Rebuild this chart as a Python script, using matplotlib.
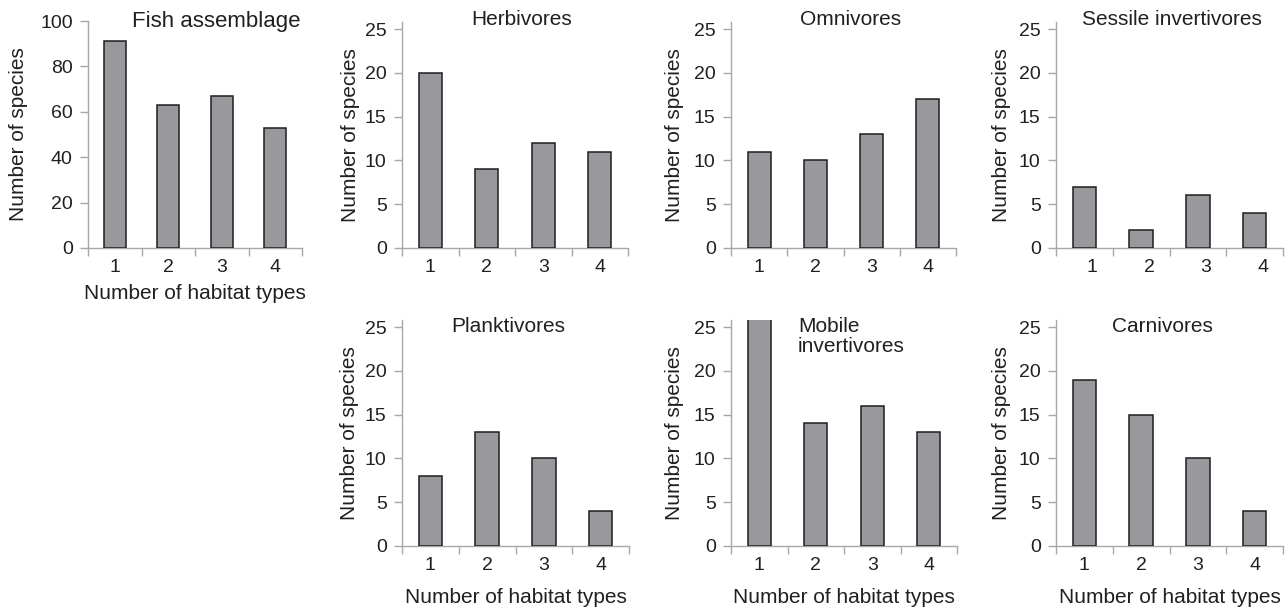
import matplotlib
matplotlib.use("Agg")
import matplotlib.pyplot as plt
import matplotlib.transforms as mtransforms

plt.rcParams['font.family'] = ['Liberation Sans', 'DejaVu Sans']

# Number of habitat types used by each species
habitat_types = ["1", "2", "3", "4"]

fish_assemblage = [91, 63, 67, 53]
herbivores = [20, 9, 12, 11]
omnivores = [11, 10, 13, 17]
sessile_invertivores = [7, 2, 6, 4]
planktivores = [8, 13, 10, 4]
mobile_invertivores = [26, 14, 16, 13]
carnivores = [19, 15, 10, 4]

W, H = 1287, 612
fig = plt.figure(figsize=(W / 100, H / 100), dpi=100)

TEXT = "#231f20"
SPINE = "#a8a8a8"
BAR = "#99989d"
EDGE = "#1e1e1e"
TICK_FS = 14
LABEL_FS = 15


def make_axes(left, right, top, bottom):
    return fig.add_axes([left / W, 1 - bottom / H, (right - left) / W, (bottom - top) / H])


def panel(box, values, title, title_xy, ymax, yticks, xlabel_y, ylabel_x,
          title_ha="center", title_fs=LABEL_FS, xlabel_shift=0):
    ax = make_axes(*box)
    x = range(1, len(values) + 1)
    ax.bar(x, values, width=0.41, color=BAR, edgecolor=EDGE, linewidth=1.1, zorder=3)
    ax.set_xlim(0.5, len(values) + 0.5)
    ax.set_ylim(0, ymax)
    ax.set_yticks(yticks)
    ax.set_yticklabels([str(t) for t in yticks])
    # ticks sit on the category boundaries, labels at the category centres
    ax.set_xticks([i + 0.5 for i in range(0, len(values) + 1)])
    ax.set_xticklabels([])
    ax.set_xticks(list(x), minor=True)
    ax.set_xticklabels(habitat_types, minor=True)
    ax.tick_params(axis="x", which="minor", length=0, pad=8, labelsize=TICK_FS, labelcolor=TEXT)
    ax.tick_params(axis="x", which="major", length=6, width=1, color=SPINE, direction="out")
    ax.tick_params(axis="y", length=6, width=1, color=SPINE, direction="out",
                   pad=5, labelsize=TICK_FS, labelcolor=TEXT)
    if xlabel_shift:
        off = mtransforms.ScaledTranslation(xlabel_shift / 100, 0, fig.dpi_scale_trans)
        for lab in ax.get_xticklabels(minor=True):
            lab.set_transform(lab.get_transform() + off)
    for side in ("top", "right"):
        ax.spines[side].set_visible(False)
    for side in ("left", "bottom"):
        ax.spines[side].set_color(SPINE)
        ax.spines[side].set_linewidth(1.0)
    ax.patch.set_alpha(0)
    ax.set_ylabel("Number of species", fontsize=LABEL_FS, color=TEXT, va="center")
    ax.yaxis.set_label_coords(ylabel_x, 0.5)
    if xlabel_y is not None:
        ax.set_xlabel("Number of habitat types", fontsize=LABEL_FS, color=TEXT, va="center")
        ax.xaxis.set_label_coords(0.5, xlabel_y)
    ax.text(title_xy[0], title_xy[1], title, transform=ax.transAxes, ha=title_ha,
            va="center", fontsize=title_fs, color=TEXT, linespacing=1.06)
    return ax


t25 = [0, 5, 10, 15, 20, 25]

panel((88, 302, 21, 248), fish_assemblage, "Fish assemblage", (0.6, 1.0), 100,
      [0, 20, 40, 60, 80, 100], -0.199, -0.327, title_fs=16)
panel((402, 628, 22, 248), herbivores, "Herbivores", (0.53, 1.009), 25.8, t25,
      None, -0.230)
panel((731, 956, 22, 248), omnivores, "Omnivores", (0.53, 1.009), 25.8, t25,
      None, -0.249)
panel((1056, 1283, 22, 248), sessile_invertivores, "Sessile invertivores", (0.51, 1.009),
      25.8, t25, None, -0.242, xlabel_shift=8)
panel((402, 629, 320, 546), planktivores, "Planktivores", (0.467, 0.973), 25.8, t25,
      -0.230, -0.230)
panel((731, 957, 320, 546), mobile_invertivores, "Mobile\ninvertivores", (0.296, 0.925),
      25.8, t25, -0.230, -0.250, title_ha="left")
panel((1056, 1283, 320, 546), carnivores, "Carnivores", (0.47, 0.973), 25.8, t25,
      -0.230, -0.242)

fig.savefig("out.png", dpi=100, facecolor="white")
